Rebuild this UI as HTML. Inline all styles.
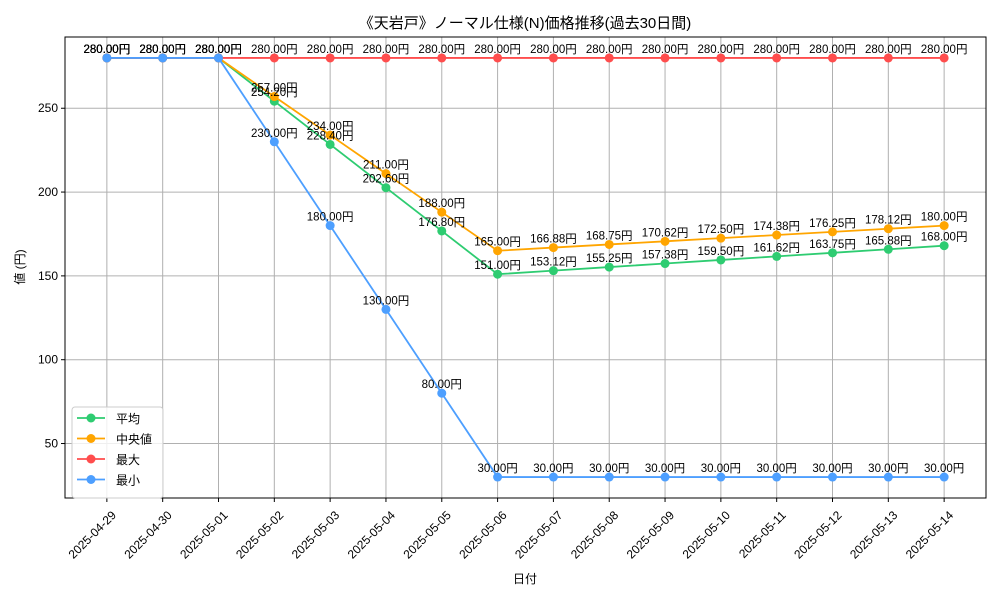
<!DOCTYPE html>
<html><head><meta charset="utf-8"><style>
body{margin:0;background:#fff;}
svg text{font-family:"Liberation Sans","Noto Sans CJK JP",sans-serif;}
</style></head><body>
<svg id="chart" width="1000" height="600" xmlns="http://www.w3.org/2000/svg">
<rect width="1000" height="600" fill="#fff"/>
<text x="525" y="28" font-size="15" text-anchor="middle">《天岩戸》ノーマル仕様(N)価格推移(過去30日間)</text>
<g id="grid"></g><g id="series"></g><g id="labels"></g>
<rect x="65" y="37" width="921" height="461" fill="none" stroke="#000" stroke-width="1"/>
<g id="axes"></g>
<text x="525" y="583" font-size="12" text-anchor="middle">日付</text>
<text x="24" y="267" font-size="12" text-anchor="middle" transform="rotate(-90 24 267)">値 (円)</text>
<g id="legend"></g>
</svg>
<script>
const categories=["2025-04-29","2025-04-30","2025-05-01","2025-05-02","2025-05-03","2025-05-04","2025-05-05","2025-05-06","2025-05-07","2025-05-08","2025-05-09","2025-05-10","2025-05-11","2025-05-12","2025-05-13","2025-05-14"];
const avgValues=[280,280,280,254.2,228.4,202.6,176.8,151,153.12,155.25,157.38,159.5,161.62,163.75,165.88,168];
const medianValues=[280,280,280,257,234,211,188,165,166.88,168.75,170.62,172.5,174.38,176.25,178.12,180];
const maxValues=[280,280,280,280,280,280,280,280,280,280,280,280,280,280,280,280];
const minValues=[280,280,280,230,180,130,80,30,30,30,30,30,30,30,30,30];
const yTicks=[50,100,150,200,250];
const seriesNames=["平均","中央値","最大","最小"];
const NS="http://www.w3.org/2000/svg";
const L=65,R=986,T=37,B=498;
const yMin=17.5,yMax=292.5;
const x=i=>L+(i+0.75)*(R-L)/(categories.length-1+1.5);
const y=v=>B-(v-yMin)/(yMax-yMin)*(B-T);
function mk(tag,attrs,parent){const e=document.createElementNS(NS,tag);for(const k in attrs)e.setAttribute(k,attrs[k]);parent.appendChild(e);return e;}
const grid=document.getElementById('grid'),axes=document.getElementById('axes');
categories.forEach((c,i)=>{
 const g=mk('line',{x1:x(i),x2:x(i),y1:T,y2:B,stroke:'#b0b0b0','stroke-width':1},grid);
 
 
 const t=mk('line',{x1:x(i),x2:x(i),y1:B,y2:B+4,stroke:'#000'},axes);
 
 
 const lx=x(i)+4,ly=B+12;
 const tx=mk('text',{x:lx,y:ly,'font-size':12,'text-anchor':'end',transform:`rotate(-45 ${lx} ${ly})`,dy:'0.7em'},axes);
 tx.textContent=c;
 
 
});
yTicks.forEach(v=>{
 const g=mk('line',{x1:L,x2:R,y1:y(v),y2:y(v),stroke:'#b0b0b0','stroke-width':1},grid);
 
 
 const t=mk('line',{x1:L-4,x2:L,y1:y(v),y2:y(v),stroke:'#000'},axes);
 
 
 const tx=mk('text',{x:L-7,y:y(v)+4,'font-size':12,'text-anchor':'end'},axes);
 tx.textContent=v;
 
 
});
const series=[[avgValues,'#2ecc71'],[medianValues,'#ffa500'],[maxValues,'#ff4d4d'],[minValues,'#4d9fff']];
const sg=document.getElementById('series'),lg=document.getElementById('labels');
series.forEach(([vals,col],si)=>{
 const p=mk('polyline',{points:vals.map((v,i)=>x(i)+','+y(v)).join(' '),fill:'none',stroke:col,'stroke-width':1.8},sg);
 
 
 vals.forEach((v,i)=>{
  const c=mk('circle',{cx:x(i),cy:y(v),r:4.5,fill:col},sg);
  
  
  const t=mk('text',{x:x(i),y:y(v)-5,'font-size':11.5,'text-anchor':'middle'},lg);
  t.textContent=v.toFixed(2)+'円';
  
  
 });
});
const leg=document.getElementById('legend');
const box=mk('rect',{x:72,y:407,width:91,height:91,rx:3,fill:'#fff','fill-opacity':0.8,stroke:'#ccc'},leg);


series.forEach(([v,col],i)=>{
 const yy=418+i*20.5;
 const l=mk('line',{x1:77,x2:105,y1:yy,y2:yy,stroke:col,'stroke-width':1.8},leg);
 
 
 const c=mk('circle',{cx:91,cy:yy,r:4.5,fill:col},leg);
 
 
 const t=mk('text',{x:116,y:yy+5,'font-size':12},leg);
 t.textContent=seriesNames[i];
 
 
});
</script>
</body></html>
